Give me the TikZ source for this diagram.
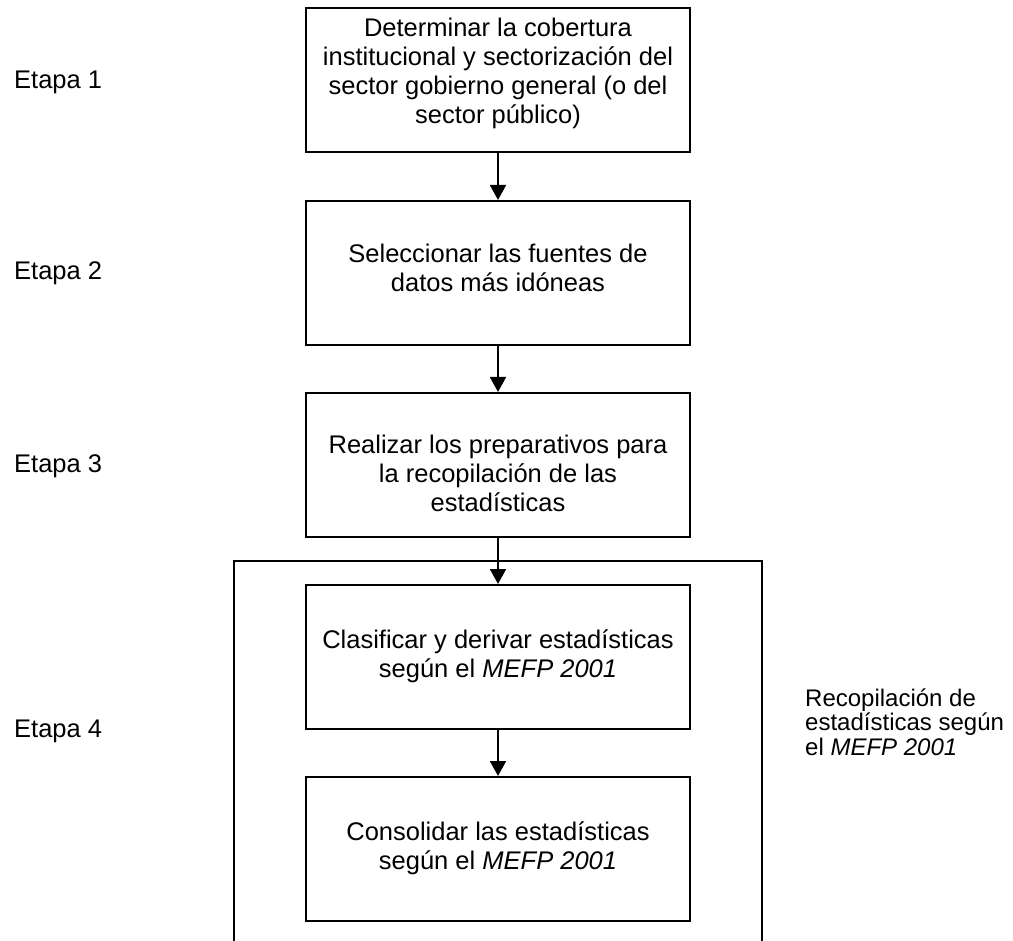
\documentclass[tikz,border=0pt]{standalone}
\usepackage{fontspec}
\setmainfont{Liberation Sans}
\usetikzlibrary{arrows.meta}

\tikzset{
  etapa/.style={anchor=west, inner sep=0pt, font=\fontsize{25.5}{29}\selectfont},
  caja/.style={draw, line width=2pt, minimum width=384pt, minimum height=144pt, inner sep=0pt},
  texto/.style={align=center, inner sep=0pt, font=\fontsize{25.5}{29}\selectfont},
  flecha/.style={line width=2pt, -{Triangle[width=16pt,length=15pt]}}
}

\begin{document}
\begin{tikzpicture}[x=1pt, y=-1pt]
  \useasboundingbox (0,0) rectangle (1013,941);
  % marco de la etapa 4
  \draw[line width=2pt] (234,945) -- (234,561) -- (762,561) -- (762,945);
  % cajas
  \node[caja] (c1) at (498,80.5) {};
  \node[caja] (c2) at (498,273) {};
  \node[caja] (c3) at (498,465) {};
  \node[caja] (c4) at (498,657) {};
  \node[caja] (c5) at (498,849) {};
  \node[texto] (t1) at ([yshift=7pt]c1) {Determinar la cobertura\\institucional y sectorizaci\'on del\\sector gobierno general (o del\\sector p\'ublico)};
  \node[texto] (t2) at ([yshift=5pt]c2) {Seleccionar las fuentes de\\datos m\'as id\'oneas};
  \node[texto] (t3) at ([yshift=-8pt]c3) {Realizar los preparativos para\\la recopilaci\'on de las\\estad\'isticas};
  \node[texto] (t4) at ([yshift=1pt]c4) {Clasificar y derivar estad\'isticas\\seg\'un el \textit{MEFP 2001}};
  \node[texto] (t5) at ([yshift=1pt]c5) {Consolidar las estad\'isticas\\seg\'un el \textit{MEFP 2001}};
  \draw[flecha] (c1) -- (c2);
  \draw[flecha] (c2) -- (c3);
  \draw[flecha] (c3) -- (c4);
  \draw[flecha] (c4) -- (c5);
  % etapas
  \node[etapa] (e1) at (14,82) {Etapa 1};
  \node[etapa] (e2) at (14,273) {Etapa 2};
  \node[etapa] (e3) at (14,466) {Etapa 3};
  \node[etapa] (e4) at (14,731) {Etapa 4};
  \node[etapa, align=left, font=\fontsize{24}{24.5}\selectfont] (rec) at (805,722) {Recopilaci\'on de\\estad\'isticas seg\'un\\el \textit{MEFP 2001}};
\end{tikzpicture}
\end{document}
